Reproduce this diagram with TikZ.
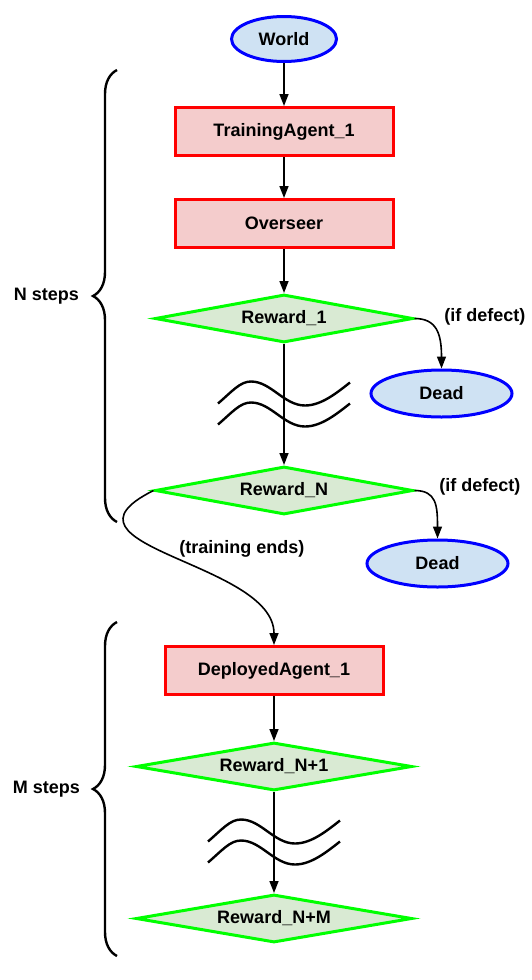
\documentclass[tikz,border=0pt]{standalone}
\usepackage{fontspec}
\setmainfont{Liberation Sans}
\usepackage{xcolor}
\usepackage{tikz}
\usetikzlibrary{arrows.meta,positioning,shapes.geometric,calc,decorations.pathreplacing}
\definecolor{agentred}{HTML}{FF0000}
\definecolor{agentfill}{HTML}{F4CCCC}
\definecolor{rewardgreen}{HTML}{00FF00}
\definecolor{rewardfill}{HTML}{D9EAD3}
\definecolor{stateblue}{HTML}{0000FF}
\definecolor{statefill}{HTML}{CFE2F3}
\tikzset{
    flow text/.style={font=\fontsize{18}{21}\selectfont\bfseries},
    flow agent/.style={
        flow text,
        draw=agentred,
        fill=agentfill,
        line width=3pt,
        minimum width=218pt,
        minimum height=48pt,
        align=center,
        inner sep=4pt
    },
    flow reward/.style={
        flow text,
        diamond,
        aspect=5,
        draw=rewardgreen,
        fill=rewardfill,
        line width=3pt,
        minimum width=258pt,
        minimum height=48pt,
        inner sep=2pt
    },
    flow state/.style={
        flow text,
        ellipse,
        draw=stateblue,
        fill=statefill,
        line width=3pt,
        minimum height=46pt,
        inner sep=2pt
    },
    flow label/.style={flow text, inner sep=0pt},
    flow arrow/.style={-{Triangle[length=12pt,width=9pt]}, line width=1.6pt, draw=black},
    flow wave/.style={line width=2.4pt, draw=black},
    flow brace/.style={decorate, decoration={brace, amplitude=24pt}, line width=2.4pt, draw=black}
}

\begin{document}
\begin{tikzpicture}[x=1pt, y=-1pt]
\useasboundingbox (0,0) rectangle (532,980);
% Training: N steps
\node[flow state, minimum width=105pt, minimum height=45pt] (w0) at (284,39) {World};
\node[flow agent, below=43pt of w0] (t1) {TrainingAgent\_1};
\node[flow agent, below=41pt of t1] (o1) {Overseer};
\node[flow reward, below=44pt of o1] (r1) {Reward\_1};
\node[flow state, minimum width=141pt, minimum height=47pt, below=50pt of r1.east, xshift=27pt] (d1) {Dead};
\node[flow reward, below=121pt of r1] (rN) {Reward\_N};
\node[flow state, minimum width=141pt, minimum height=47pt, below=48pt of rN.east, xshift=23pt] (d2) {Dead};
\coordinate (m1) at ($(r1)!0.5!(rN)$);
\begin{scope}[shift={(m1)}]
\draw[flow wave] (-66,-1) .. controls (-52,-13) and (-44,-23) .. (-33,-23) .. controls (-13,-23) and (0,1) .. (21,1) .. controls (37,1) and (52,-11) .. (66,-22);
\draw[flow wave] (-66,20) .. controls (-52,8) and (-44,-2) .. (-33,-2) .. controls (-13,-2) and (0,22) .. (21,22) .. controls (37,22) and (52,10) .. (66,-1);
\end{scope}
\draw[flow arrow] (w0) -- (t1);
\draw[flow arrow] (t1) -- (o1);
\draw[flow arrow] (o1) -- (r1);
\draw[flow arrow] (r1) -- (rN);
\draw[flow arrow] (r1.east) .. controls +(22,0) and +(0,-35) .. (d1.north) node[flow label, pos=0, right=29pt, yshift=2pt] {(if defect)};
\draw[flow arrow] (rN.east) .. controls +(22,0) and +(0,-33) .. (d2.north) node[flow label, pos=0, right=24pt, yshift=4pt] {(if defect)};
\coordinate (nb) at (117,522);
\coordinate (nt) at (117,70);
\draw[flow brace] (nb) -- (nt) node[flow label, midway, left=37pt] {N steps};

% Deployment: M steps
\node[flow agent, below=129pt of rN, xshift=-10pt] (da) {DeployedAgent\_1};
\node[flow reward, minimum width=276pt, below=45pt of da] (rN1) {Reward\_N+1};
\node[flow reward, minimum width=276pt, below=101pt of rN1] (rNM) {Reward\_N+M};
\coordinate (m2) at ($(rN1)!0.5!(rNM)$);
\begin{scope}[shift={(m2)}]
\draw[flow wave] (-66,-1) .. controls (-52,-13) and (-44,-23) .. (-33,-23) .. controls (-13,-23) and (0,1) .. (21,1) .. controls (37,1) and (52,-11) .. (66,-22);
\draw[flow wave] (-66,20) .. controls (-52,8) and (-44,-2) .. (-33,-2) .. controls (-13,-2) and (0,22) .. (21,22) .. controls (37,22) and (52,10) .. (66,-1);
\end{scope}
\draw[flow arrow] (rN.west) .. controls +(-112,56) and +(0,-83) .. (da.north) node[flow label, pos=0.4, right=31pt, yshift=-4pt] {(training ends)};
\draw[flow arrow] (da) -- (rN1);
\draw[flow arrow] (rN1) -- (rNM);
\coordinate (mb) at (117,956);
\coordinate (mt) at (117,622);
\draw[flow brace] (mb) -- (mt) node[flow label, midway, left=36pt] {M steps};
\end{tikzpicture}
\end{document}
